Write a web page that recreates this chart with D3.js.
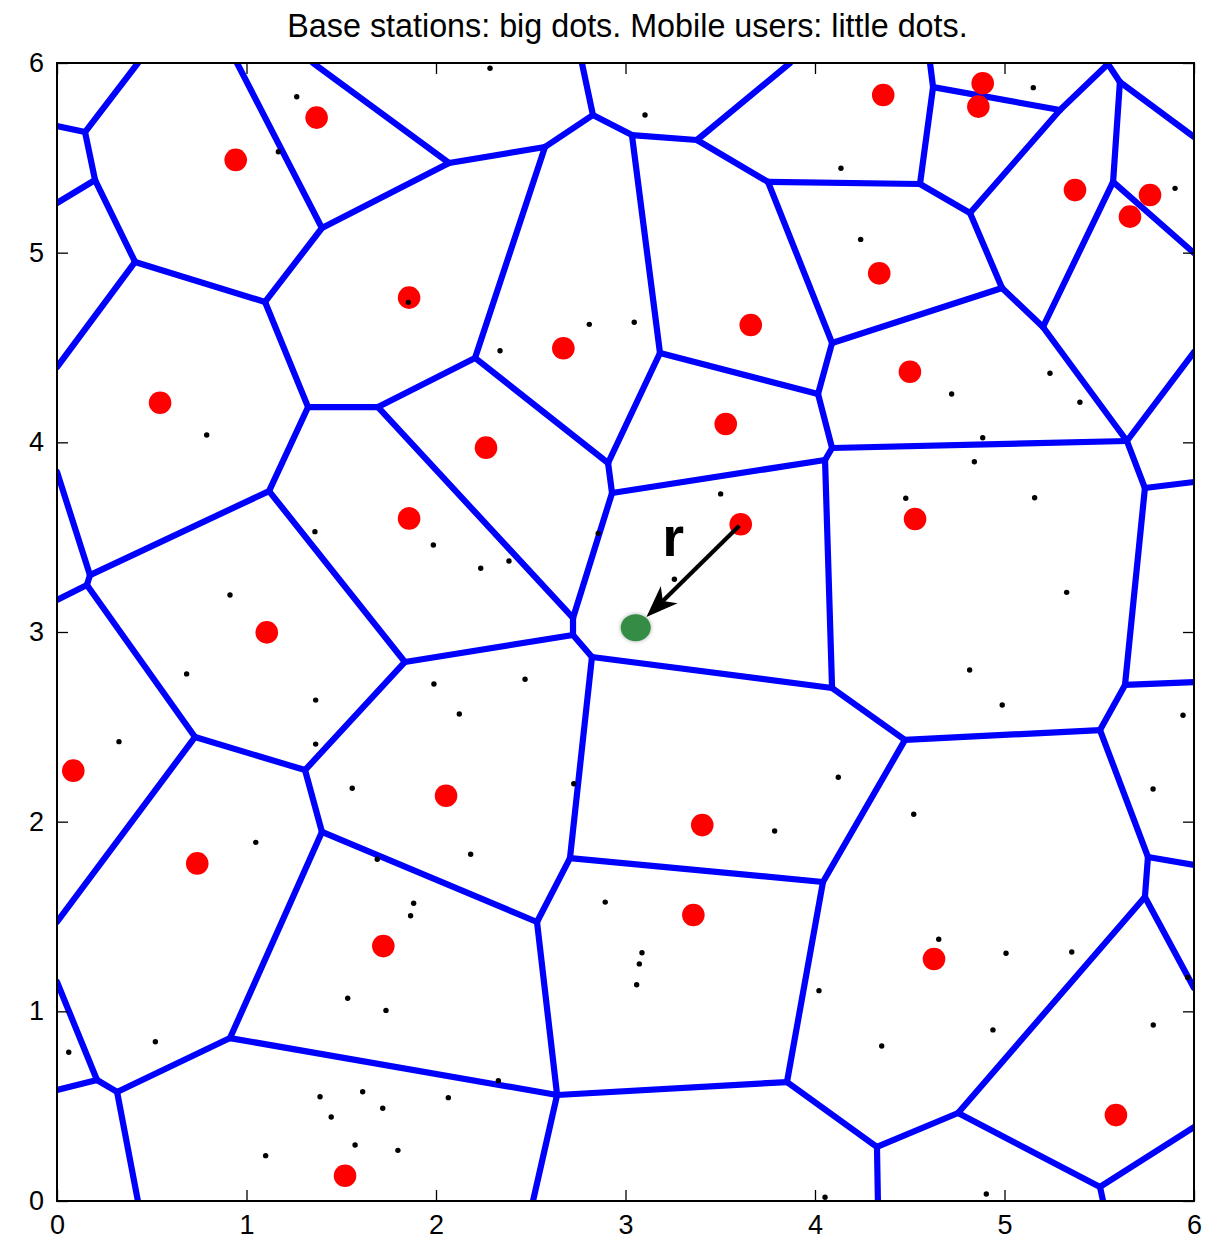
<!DOCTYPE html>
<html>
<head>
<meta charset="utf-8">
<script src="https://cdn.jsdelivr.net/npm/d3@7"></script>
<style>
  html, body { margin: 0; padding: 0; background: #fff; }
  svg { display: block; }
  text { font-family: "Liberation Sans", Arial, Helvetica, sans-serif; fill: #000; }
</style>
</head>
<body>
<svg id="chart" width="1220" height="1241"></svg>
<script>
// ---- Base stations (big red dots) ----
const stationX = [0.943, 1.370, 1.858, 2.672, 3.661, 4.360, 4.885, 4.862, 5.372, 5.768,
                  5.662, 4.339, 4.501, 3.529, 4.528, 3.608, 2.264, 1.858, 0.544, 1.107,
                  0.086, 0.740, 2.053, 3.405, 1.722, 3.358, 4.628, 5.588, 1.520];
const stationY = [5.489, 5.712, 4.763, 4.496, 4.619, 5.831, 5.893, 5.770, 5.330, 5.304,
                  5.190, 4.891, 4.372, 4.097, 3.596, 3.568, 3.972, 3.599, 4.209, 2.998,
                  2.269, 1.780, 2.137, 1.982, 1.344, 1.508, 1.276, 0.453, 0.133];

// ---- Mobile users (little black dots) ----
const userX = [1.265, 1.168, 1.854, 0.790, 2.285, 3.103, 2.809, 3.046, 2.338, 5.152,
               4.137, 5.900, 4.241, 5.240, 4.721, 5.398, 4.885, 1.361, 1.986, 0.913,
               0.684, 1.365, 1.365, 0.327, 1.558, 2.236, 2.385, 2.856, 3.502, 3.258,
               1.989, 2.470, 2.123, 2.727, 4.841, 4.479, 5.159, 5.328, 4.816, 4.988,
               5.942, 4.123, 4.521, 5.784, 1.049, 1.690, 1.882, 1.866, 1.534, 1.736,
               0.519, 0.062, 1.388, 1.613, 1.447, 1.719, 1.573, 1.799, 1.101, 2.183,
               3.787, 2.893, 3.087, 3.073, 3.059, 4.021, 2.329, 2.065, 4.653, 5.008,
               5.355, 5.967, 4.939, 4.352, 5.785, 4.053, 4.904];
const userY = [5.822, 5.532, 4.738, 4.039, 5.972, 5.726, 4.622, 4.633, 4.483, 5.870,
               5.445, 5.339, 5.070, 4.364, 4.255, 4.211, 4.024, 3.529, 3.459, 3.195,
               2.779, 2.641, 2.409, 2.422, 2.176, 3.336, 3.374, 3.520, 3.728, 3.278,
               2.726, 2.751, 2.568, 2.200, 3.898, 3.705, 3.708, 3.209, 2.800, 2.615,
               2.561, 2.234, 2.039, 2.172, 1.891, 1.802, 1.570, 1.504, 1.069, 1.005,
               0.840, 0.784, 0.550, 0.576, 0.443, 0.489, 0.295, 0.267, 0.239, 1.828,
               1.951, 1.576, 1.309, 1.250, 1.140, 1.109, 0.634, 0.545, 1.380, 1.306,
               1.313, 1.179, 0.902, 0.817, 0.928, 0.020, 0.037];

// ---- Highlighted user and its serving station ----
const servedUser = [3.054, 3.023];
const servingStation = 15;           // index into stationX / stationY
const distanceLabel = { text: "r", x: 3.251, y: 3.401 };

// ---- Voronoi cell boundaries: vertices (x, y) and edges as vertex index pairs ----
const vertexX = [
  0.000, 0.427, 0.000, 0.000, 0.950, 1.351, 2.770, 3.868, 4.607, 5.546,   // 0-9   frame crossings
  6.000, 6.000, 6.000, 6.000, 6.000, 6.000, 6.000, 6.000, 5.520, 4.332,   // 10-19
  2.512, 0.427, 0.000, 0.000, 0.000, 0.000, 0.000,                        // 20-26
  0.148, 0.201, 0.412, 1.098, 1.398, 2.069, 1.325, 1.694, 1.119, 2.206,   // 27-36 interior
  2.828, 3.034, 2.575, 2.908, 3.182, 3.377, 3.752, 4.554, 4.090, 4.016,   // 37-46
  4.623, 5.293, 5.609, 5.573, 5.203, 4.818, 4.987, 5.646, 4.090, 4.053,   // 47-56
  4.090, 2.929, 2.723, 2.723, 2.823, 1.836, 2.707, 4.475, 5.504, 5.636,   // 57-66
  5.741, 4.042, 3.852, 5.757, 5.741, 4.755, 4.327, 5.504, 2.533, 2.639,   // 67-76
  0.913, 0.728, 1.398, 1.309, 0.317, 0.211, 0.174, 0.158                  // 77-84
];
const vertexY = [
  5.668, 6.000, 5.262, 4.397, 6.000, 6.000, 6.000, 6.000, 6.000, 5.995,
  5.610, 4.998, 4.476, 3.791, 2.736, 1.772, 1.123, 0.390, 0.000, 0.000,
  0.000, 0.000, 0.585, 1.155, 1.471, 3.169, 3.844,
  5.636, 5.383, 4.951, 4.740, 5.130, 5.473, 4.186, 4.186, 3.743, 4.445,
  5.726, 5.620, 5.557, 3.891, 4.471, 5.594, 5.373, 5.362, 4.524, 4.255,
  5.873, 5.752, 5.900, 5.373, 4.608, 5.209, 4.814, 4.007, 3.970, 3.907,
  2.705, 3.733, 3.074, 2.984, 2.868, 2.842, 1.808, 2.431, 2.483, 2.721,
  3.759, 1.682, 0.627, 1.814, 1.603, 0.464, 0.285, 0.074, 1.471, 0.559,
  0.859, 2.446, 1.946, 2.272, 0.575, 0.638, 3.300, 3.248
];
const edgeFrom = [ 0, 27, 27, 28, 28, 29, 29, 30, 31, 31, 32, 32, 39, 37, 37, 38, 42, 42, 43, 44,
                  47, 47, 48,  9, 49, 49, 50, 50, 48, 44, 52, 53, 43, 53, 51, 54, 54, 67, 67, 66,
                  66, 65, 65, 70, 70, 71, 71, 72, 72, 74, 74, 73, 73, 69, 69, 68, 68, 64, 57, 57,
                  56, 55, 55, 46, 46, 41, 41, 40, 36, 36, 40, 58, 58, 59, 59, 60, 60, 61, 63,
                  75, 75, 76, 76, 77, 77, 81, 81, 82, 82, 79, 80, 80, 62, 35, 35, 83, 83, 84, 84,
                  78, 33, 33];
const edgeTo   = [27,  1, 28,  2, 29,  3, 30, 31,  4, 32,  5, 39, 37,  6, 38, 42,  7, 43, 44, 47,
                   8, 48,  9, 49, 10, 50, 11, 51, 52, 52, 53, 45, 45, 51, 54, 12, 67, 13, 66, 14,
                  65, 64, 70, 15, 71, 16, 72, 73, 74, 17, 18, 19, 69, 68, 76, 64, 63, 57, 61, 56,
                  55, 54, 46, 45, 41, 38, 40, 36, 39, 34, 58, 56, 59, 34, 60, 62, 61, 63, 75,
                  79, 76, 20, 77, 79, 81, 21, 82, 22, 23, 80, 78, 62, 35, 33, 83, 26, 84, 25, 78,
                  24, 30, 34];

// ---- Axis ticks ----
const tickValues = [0, 1, 2, 3, 4, 5, 6];
const titleText = "Base stations: big dots. Mobile users: little dots.";

// ---------------------------------------------------------------------------
const svg = d3.select("#chart");
const plot = { left: 57, right: 1194, top: 63, bottom: 1201 };

const x = d3.scaleLinear().domain([0, 6]).range([plot.left, plot.right]);
const y = d3.scaleLinear().domain([0, 6]).range([plot.bottom, plot.top]);

const defs = svg.append("defs");
defs.append("clipPath").attr("id", "plot-clip")
  .append("rect")
  .attr("x", plot.left).attr("y", plot.top)
  .attr("width", plot.right - plot.left).attr("height", plot.bottom - plot.top);

// faint halo round the highlighted user
const soft = defs.append("filter").attr("id", "soft")
  .attr("x", "-50%").attr("y", "-50%").attr("width", "200%").attr("height", "200%");
soft.append("feGaussianBlur").attr("in", "SourceAlpha").attr("stdDeviation", 2.2).attr("result", "b");
soft.append("feComponentTransfer").attr("in", "b").attr("result", "s")
  .append("feFuncA").attr("type", "linear").attr("slope", 0.35);
const merge = soft.append("feMerge");
merge.append("feMergeNode").attr("in", "s");
merge.append("feMergeNode").attr("in", "SourceGraphic");

const layer = svg.append("g").attr("clip-path", "url(#plot-clip)");

// Voronoi boundaries
const edges = edgeFrom.map((a, i) => [[vertexX[a], vertexY[a]], [vertexX[edgeTo[i]], vertexY[edgeTo[i]]]]);
const line = d3.line().x(d => x(d[0])).y(d => y(d[1]));
layer.append("g")
  .selectAll("path")
  .data(edges)
  .join("path")
  .attr("d", line)
  .attr("fill", "none")
  .attr("stroke", "#0000ff")
  .attr("stroke-width", 6.2)
  .attr("stroke-linecap", "round")
  .attr("stroke-linejoin", "round");

// Base stations
layer.append("g")
  .selectAll("circle")
  .data(d3.range(stationX.length))
  .join("circle")
  .attr("cx", i => x(stationX[i]))
  .attr("cy", i => y(stationY[i]))
  .attr("r", 11.3)
  .attr("fill", "#ff0000");

// Mobile users
layer.append("g")
  .selectAll("circle")
  .data(d3.range(userX.length))
  .join("circle")
  .attr("cx", i => x(userX[i]))
  .attr("cy", i => y(userY[i]))
  .attr("r", 2.7)
  .attr("fill", "#000");

// Highlighted user
layer.append("ellipse")
  .attr("cx", x(servedUser[0]))
  .attr("cy", y(servedUser[1]))
  .attr("rx", 15).attr("ry", 13.5)
  .attr("fill", "#348c44")
  .attr("filter", "url(#soft)");

// Arrow from the serving station to the user
{
  const x0 = x(stationX[servingStation]), y0 = y(stationY[servingStation]);
  const x1 = x(servedUser[0]), y1 = y(servedUser[1]);
  const len = Math.hypot(x1 - x0, y1 - y0);
  const ux = (x1 - x0) / len, uy = (y1 - y0) / len;
  const px = -uy, py = ux;
  const tipX = x1 - ux * 15, tipY = y1 - uy * 15;
  const headLen = 32, headHalf = 12, notch = 23;
  const baseX = tipX - ux * headLen, baseY = tipY - uy * headLen;
  const notchX = tipX - ux * notch, notchY = tipY - uy * notch;
  layer.append("line")
    .attr("x1", x0 + ux * 2).attr("y1", y0 + uy * 2)
    .attr("x2", notchX).attr("y2", notchY)
    .attr("stroke", "#000").attr("stroke-width", 4.2);
  layer.append("path")
    .attr("d", `M${tipX},${tipY} L${baseX + px * headHalf},${baseY + py * headHalf} L${notchX},${notchY} L${baseX - px * headHalf},${baseY - py * headHalf} Z`)
    .attr("fill", "#000");
  layer.append("text")
    .attr("x", x(distanceLabel.x))
    .attr("y", y(distanceLabel.y))
    .attr("text-anchor", "middle")
    .attr("font-size", 56)
    .attr("font-weight", "bold")
    .text(distanceLabel.text);
}

// Frame and ticks (on all four sides, pointing inward)
const tickLen = 11;
const axes = svg.append("g");
axes.append("g")
  .attr("transform", `translate(0,${plot.bottom})`)
  .call(d3.axisBottom(x).tickValues(tickValues).tickSize(-tickLen).tickPadding(14).tickFormat(d3.format("d")));
axes.append("g")
  .attr("transform", `translate(0,${plot.top})`)
  .call(d3.axisTop(x).tickValues(tickValues).tickSize(-tickLen).tickFormat(""));
axes.append("g")
  .attr("transform", `translate(${plot.left},0)`)
  .call(d3.axisLeft(y).tickValues(tickValues).tickSize(-tickLen).tickPadding(13).tickFormat(d3.format("d")));
axes.append("g")
  .attr("transform", `translate(${plot.right},0)`)
  .call(d3.axisRight(y).tickValues(tickValues).tickSize(-tickLen).tickFormat(""));
axes.selectAll(".domain").remove();
axes.selectAll(".tick line").attr("stroke", "#000").attr("stroke-width", 1.3);
axes.selectAll(".tick text")
  .attr("font-size", 27)
  .attr("font-family", "\"Liberation Sans\", Arial, Helvetica, sans-serif")
  .attr("fill", "#000");

svg.append("rect")
  .attr("x", plot.left).attr("y", plot.top)
  .attr("width", plot.right - plot.left).attr("height", plot.bottom - plot.top)
  .attr("fill", "none").attr("stroke", "#000").attr("stroke-width", 2);

// Title
svg.append("text")
  .attr("x", (plot.left + plot.right) / 2 + 2)
  .attr("y", 37)
  .attr("text-anchor", "middle")
  .attr("font-size", 32.3)
  .text(titleText);
</script>
</body>
</html>
